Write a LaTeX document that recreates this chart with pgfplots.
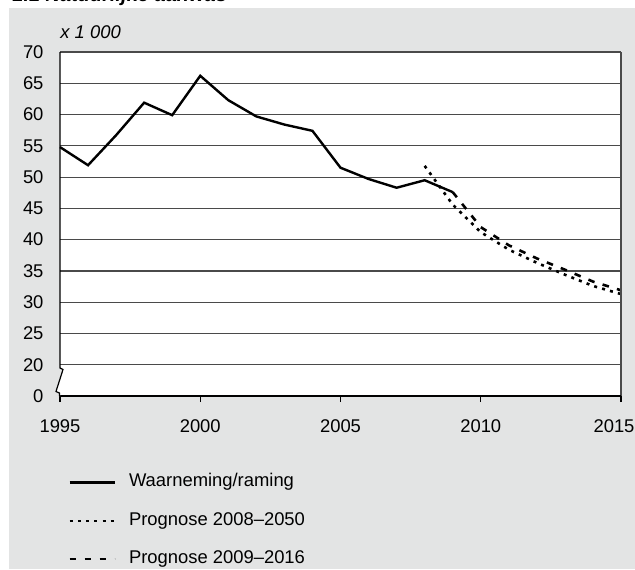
\documentclass[border=0pt]{standalone}
\usepackage{fontspec}
\setmainfont{Liberation Sans}
\usepackage{pgfplots}
\usepackage{pgfplotstable}
\pgfplotsset{compat=1.18}
\definecolor{bg}{HTML}{E3E4E4}
\definecolor{gridc}{HTML}{4A4A4A}

\pgfplotstableread{
year value
1995 54.8
1996 51.9
1997 56.7
1998 61.9
1999 59.9
2000 66.2
2001 62.3
2002 59.7
2003 58.4
2004 57.4
2005 51.5
2006 49.7
2007 48.3
2008 49.5
2009 47.6
}\obs

\pgfplotstableread{
year value
2008 51.8
2009 45.6
2010 41.2
2011 38.4
2012 36.3
2013 34.4
2014 32.6
2015 31.3
}\progA

\pgfplotstableread{
year value
2009 47.6
2010 42.0
2011 39.1
2012 37.0
2013 35.2
2014 33.3
2015 31.9
}\progB

\begin{document}
\fontsize{9.2}{11}\selectfont
\begin{tikzpicture}
\useasboundingbox (0,0) rectangle (317.5pt,284.5pt);
\fill[bg] (4.25pt,0) rectangle (317.5pt,280.5pt);
\begin{scope}
\clip (0,0) rectangle (317.5pt,284.5pt);
\node[anchor=base west, inner sep=0, font=\fontsize{10}{12}\selectfont\bfseries\itshape] at (6pt,283.6pt) {1.1 Natuurlijke aanwas};
\end{scope}
\begin{axis}[
  at={(30pt,86.5pt)}, anchor=south west,
  scale only axis, width=280.5pt, height=172pt,
  xmin=1995, xmax=2015, ymin=15, ymax=70,
  xtick={1995,2000,...,2015},
  xticklabels={1995,2000,2005,2010,{\hspace*{-7pt}2015}},
  ytick={15,20,...,70},
  yticklabels={0,20,25,30,35,40,45,50,55,60,65,70},
  ymajorgrids,
  grid style={gridc, line width=0.6pt},
  axis line style={draw=none},
  ytick style={draw=none},
  xtick style={draw=black, line width=0.6pt},
  tick align=outside, xtick pos=bottom, ytick pos=left,
  major tick length=3pt,
  axis background/.style={fill=white},
  clip=false,
  /pgf/number format/assume math mode=true,
  /pgf/number format/1000 sep={},
  tick label style={font=\fontsize{9.2}{11}\selectfont},
  xticklabel style={yshift=-5.5pt},
  yticklabel style={xshift=-2pt},
  legend style={draw=none, fill=none, at={(axis description cs:0.0036,-0.2013)}, anchor=north west,
    font=\fontsize{9.2}{11}\selectfont, row sep=7.25pt},
  legend cell align=left,
  legend image code/.code={\draw[#1] (0pt,-0.4pt) -- (22.5pt,-0.4pt); \path (27pt,0pt);},
]
\addplot[black, line width=1.2pt] table[x=year,y=value] {\obs};
\addlegendentry{Waarneming/raming}
\addplot[black, line width=1.3pt, dash pattern=on 1.5pt off 2.6pt] table[x=year,y=value] {\progA};
\addlegendentry{Prognose 2008--2050}
\addplot[black, line width=1.3pt, dash pattern=on 3.3pt off 4.2pt] table[x=year,y=value] {\progB};
\addlegendentry{Prognose 2009--2016}
% frame
\draw[gridc, line width=0.6pt] (rel axis cs:1,0) -- (rel axis cs:1,1);
\draw[black, line width=0.6pt] (rel axis cs:0,0) -- (rel axis cs:1,0);
\fill[bg] (axis cs:1995,19.48) -- (axis cs:1995.107,19.24) -- (axis cs:1995,17.73) -- cycle;
\fill[white] (axis cs:1995,17.73) -- (axis cs:1994.857,15.72) -- (axis cs:1994.98,15.48) -- (axis cs:1994.98,15) -- (axis cs:1995,15) -- cycle;
\draw[black, line width=0.6pt] (axis cs:1995,70) -- (axis cs:1995,19.48) -- (axis cs:1995.107,19.24) -- (axis cs:1994.857,15.72) -- (axis cs:1994.98,15.48) -- (axis cs:1994.98,15);
\node[anchor=west, inner sep=0, font=\fontsize{9.2}{11}\selectfont\itshape] at ([yshift=10pt]rel axis cs:0,1) {x 1 000};
\end{axis}
\end{tikzpicture}
\end{document}
